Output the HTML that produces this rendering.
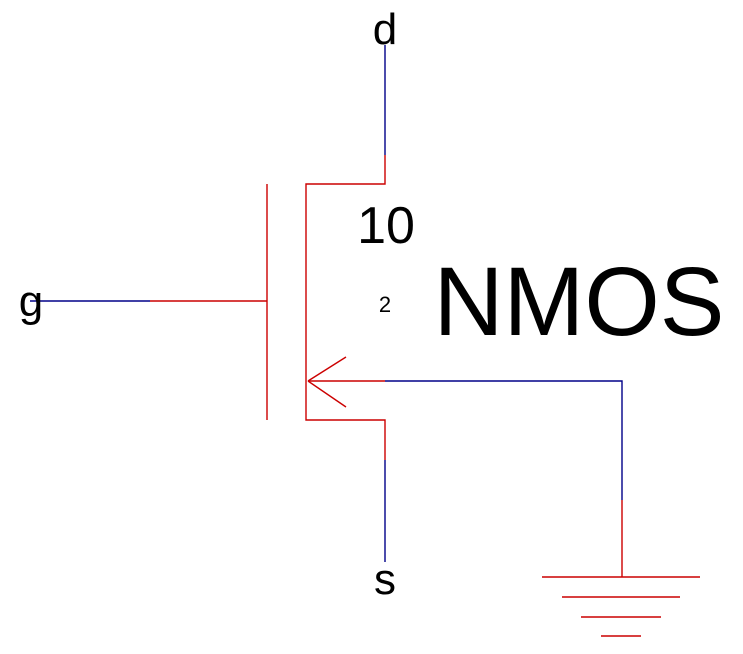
<!DOCTYPE html>
<html><head><style>body{margin:0;background:#fff}svg{display:block}</style></head><body>
<svg width="743" height="654" viewBox="0 0 743 654" xmlns="http://www.w3.org/2000/svg" font-family="Liberation Sans, sans-serif">
<g stroke-width="1.4" fill="none">
<line x1="385" y1="45" x2="385" y2="155" stroke="#000088"/>
<polyline points="385,155 385,184 306,184 306,420 385,420 385,460" stroke="#cc0000"/>
<line x1="385" y1="460" x2="385" y2="562" stroke="#000088"/>
<line x1="267" y1="184" x2="267" y2="420" stroke="#cc0000"/>
<line x1="30" y1="301" x2="150" y2="301" stroke="#000088"/>
<line x1="150" y1="301" x2="267" y2="301" stroke="#cc0000"/>
<line x1="308" y1="381" x2="385" y2="381" stroke="#cc0000"/>
<line x1="308" y1="381" x2="346" y2="357" stroke="#cc0000"/>
<line x1="308" y1="381" x2="346" y2="407" stroke="#cc0000"/>
<polyline points="385,381 622,381 622,500" stroke="#000088"/>
<line x1="622" y1="500" x2="622" y2="577" stroke="#cc0000"/>
<line x1="542" y1="577" x2="700" y2="577" stroke="#cc0000"/>
<line x1="562" y1="597" x2="680" y2="597" stroke="#cc0000"/>
<line x1="581" y1="617" x2="661" y2="617" stroke="#cc0000"/>
<line x1="601" y1="636" x2="641" y2="636" stroke="#cc0000"/>
</g>
<g fill="#000" text-anchor="middle">
<text x="385" y="44" font-size="44">d</text>
<text x="385" y="594" font-size="44">s</text>
<text x="31" y="316" font-size="44">g</text>
<text x="386" y="243" font-size="52">10</text>
<text x="385" y="312" font-size="22">2</text>
<text x="579" y="335" font-size="97">NMOS</text>
</g>
</svg>
</body></html>
